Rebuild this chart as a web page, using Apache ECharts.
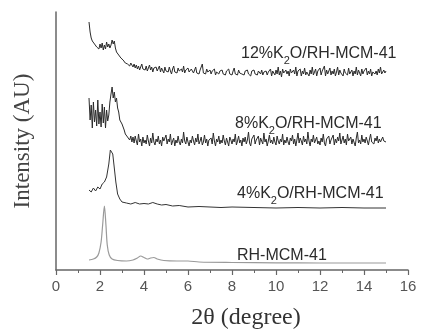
<!DOCTYPE html>
<html>
<head>
<meta charset="utf-8">
<script src="https://cdn.jsdelivr.net/npm/echarts@6/dist/echarts.min.js"></script>
<style>
  html, body { margin: 0; padding: 0; background: #fff; }
  #chart { width: 425px; height: 329px; }
</style>
</head>
<body>
<div id="chart"></div>
<script>
// x ticks (2θ, degree)
const xTicks = [0, 2, 4, 6, 8, 10, 12, 14, 16];

// RH-MCM-41 (smooth, grey) as [2θ, intensity]
const rhMcm = [
  [1.5, 10], [1.7, 11], [1.85, 13], [1.95, 17], [2.05, 28], [2.12, 45], [2.2, 64],
  [2.27, 45], [2.33, 25], [2.42, 15], [2.55, 11], [2.8, 9.5], [3.2, 9], [3.5, 10],
  [3.7, 12], [3.85, 14], [4.0, 12.5], [4.15, 11], [4.3, 12], [4.45, 12.5], [4.6, 11],
  [4.9, 9.5], [5.5, 9], [6.0, 9], [6.5, 8], [8, 7.5], [10, 7.2], [12, 7], [15, 7]
];

// 4%K2O/RH-MCM-41
const k4 = [
  [1.5, 80], [1.6, 78], [1.7, 82], [1.8, 79], [1.9, 83], [2.0, 81], [2.1, 86],
  [2.2, 88], [2.3, 93], [2.4, 106], [2.47, 120], [2.52, 122], [2.58, 116], [2.65, 102],
  [2.72, 88], [2.8, 76], [2.9, 71], [3.0, 68], [3.2, 67], [3.4, 66], [3.6, 67.5],
  [3.8, 66], [4.0, 66.5], [4.2, 66], [4.4, 67.5], [4.6, 66], [4.8, 65], [5.0, 65.5],
  [5.3, 64], [5.6, 64.5], [6.0, 63], [6.5, 63.5], [7, 63], [7.5, 62.5], [8, 63],
  [9, 62.5], [10, 62], [11, 62.5], [12, 62], [13, 62.5], [14, 62], [15, 62]
];

// 8%K2O/RH-MCM-41, sampled every 0.05 from 1.5 to 15
const k8Start = 1.5;
const k8Step = 0.05;
const k8 = [
  172, 150, 165, 142, 168, 148, 160, 144, 170, 146, 158,
  143, 166, 147, 163, 142, 160, 149, 155, 168, 176,
  183, 172, 178, 168, 172, 162, 158, 150, 152, 146,
  143, 140, 136, 138, 133, 135, 130, 134, 128, 133,
  127, 134, 129, 125, 136, 128, 131, 124, 133, 127,
  130, 126, 135, 129, 124, 132, 127, 137, 128, 125,
  131, 128, 134, 126, 130, 124, 133, 129, 127, 135,
  126, 131, 128, 136, 125, 129, 132, 124, 130, 127,
  134, 128, 125, 131, 127, 138, 129, 126, 133, 128,
  124, 130, 127, 134, 129, 125, 132, 128, 136, 126,
  129, 133, 125, 128, 135, 127, 131, 124, 130, 128,
  132, 126, 137, 129, 124, 131, 128, 134, 126, 130,
  127, 135, 129, 125, 132, 128, 124, 133, 130, 126,
  131, 128, 136, 125, 129, 134, 127, 130, 124, 132,
  128, 133, 126, 130, 138, 127, 124, 131, 129, 135,
  126, 130, 128, 134, 125, 132, 129, 126, 137, 128,
  131, 124, 129, 135, 127, 130, 126, 133, 128, 125,
  134, 129, 126, 131, 128, 136, 125, 130, 127, 133,
  128, 125, 132, 129, 135, 126, 131, 124, 130, 137,
  127, 132, 129, 125, 134, 128, 131, 126, 138, 129,
  124, 131, 128, 135, 127, 130, 133, 126, 129, 125,
  132, 128, 136, 127, 124, 131, 129, 134, 126, 130,
  128, 135, 125, 131, 127, 133, 129, 137, 126, 130,
  134, 127, 131, 125, 136, 129, 128, 133, 126, 131,
  129, 124, 132, 138, 127, 130, 126, 135, 128, 131,
  127, 133, 129, 125, 131, 136, 128, 130, 126, 132,
  129, 134, 127, 131, 128, 126, 133, 129, 130, 128
];

// 12%K2O/RH-MCM-41, sampled every 0.05 from 1.5 to 15
const k12Start = 1.5;
const k12Step = 0.05;
const k12 = [
  248, 238, 232, 229, 231, 226, 228, 223, 225, 221, 226,
  222, 227, 220, 225, 221, 228, 223, 226, 222, 225,
  230, 226, 229, 222, 218, 220, 215, 217, 212, 214,
  210, 212, 207, 209, 206, 208, 204, 207, 205, 203,
  206, 202, 205, 201, 204, 200, 203, 206, 201, 203,
  200, 204, 199, 202, 205, 200, 203, 198, 202, 200,
  203, 199, 201, 204, 198, 202, 200, 197, 203, 199,
  201, 198, 203, 199, 196, 201, 204, 198, 200, 197,
  202, 199, 197, 201, 198, 204, 197, 200, 198, 202,
  198, 196, 201, 199, 197, 200, 203, 197, 199, 196,
  200, 198, 206, 197, 199, 196, 201, 198, 197, 200,
  196, 199, 197, 201, 195, 198, 200, 196, 199, 197,
  200, 196, 198, 195, 199, 197, 201, 196, 198, 195,
  199, 202, 196, 198, 195, 200, 197, 199, 196, 198,
  195, 199, 197, 200, 196, 198, 194, 199, 197, 200,
  196, 198, 195, 199, 197, 196, 200, 195, 198, 197,
  199, 195, 198, 196, 201, 194, 199, 197, 195, 200,
  196, 203, 195, 199, 193, 201, 197, 195, 200, 196,
  199, 194, 201, 197, 195, 200, 196, 203, 194, 199,
  197, 201, 194, 199, 196, 202, 195, 198, 200, 194,
  200, 196, 203, 195, 198, 201, 194, 199, 197, 202,
  195, 199, 197, 204, 194, 200, 196, 198, 202, 195,
  199, 196, 201, 194, 198, 203, 195, 200, 197, 199,
  194, 201, 197, 199, 195, 202, 196, 198, 200, 194,
  199, 196, 203, 195, 200, 197, 194, 201, 196, 199,
  197, 202, 195, 199, 196, 201, 194, 198, 200, 196,
  199, 195, 201, 197, 203, 196, 198, 200, 197, 199
];

const seriesLabels = [
  { pre: '12%K', post: 'O/RH-MCM-41', x: 241, y: 52 },
  { pre: '8%K', post: 'O/RH-MCM-41', x: 235, y: 122 },
  { pre: '4%K', post: 'O/RH-MCM-41', x: 237, y: 192 },
  { pre: 'RH-MCM-41', post: null, x: 237, y: 254 }
];

const toPairs = (vals, start, step) =>
  vals.map((v, i) => [+(start + i * step).toFixed(2), v]);

const chart = echarts.init(document.getElementById('chart'));

const labelGraphics = seriesLabels.map(l => ({
  type: 'text',
  left: l.x,
  top: l.y - 6,
  style: {
    text: l.post ? `{a|${l.pre}}{s|2}{a|${l.post}}` : `{a|${l.pre}}`,
    rich: {
      a: { fontFamily: 'Liberation Sans', fontSize: 16, fill: '#2b2b2b', lineHeight: 19, verticalAlign: 'bottom' },
      s: { fontFamily: 'Liberation Sans', fontSize: 11, fill: '#2b2b2b', lineHeight: 19, verticalAlign: 'bottom', padding: [0, 0, -4, 0] }
    }
  }
}));

const lineSeries = (data, color, width) => ({
  type: 'line',
  data,
  showSymbol: false,
  symbol: 'none',
  lineStyle: { color, width },
  animation: false
});

chart.setOption({
  animation: false,
  grid: { left: 56, right: 17, top: 12, bottom: 59, outerBoundsMode: 'none' },
  xAxis: {
    type: 'value',
    min: 0,
    max: 16,
    interval: 2,
    name: '2\u03b8 (degree)',
    nameLocation: 'middle',
    nameGap: 36,
    nameTextStyle: { fontFamily: 'Liberation Serif', fontSize: 24, color: '#333', padding: [0, 0, 0, 28] },
    axisLine: { lineStyle: { color: '#666', width: 1.5 } },
    axisTick: { show: true, length: 5, lineStyle: { color: '#666', width: 1.2 } },
    minorTick: { show: true, splitNumber: 2, length: 3, lineStyle: { color: '#666' } },
    axisLabel: {
      fontFamily: 'Liberation Sans', fontSize: 15, color: '#555', margin: 9,
      formatter: v => (xTicks.includes(v) ? String(v) : '')
    },
    splitLine: { show: false }
  },
  yAxis: {
    type: 'value',
    min: 0,
    max: 258,
    name: 'Intensity (AU)',
    nameLocation: 'middle',
    nameGap: 22,
    nameTextStyle: { fontFamily: 'Liberation Serif', fontSize: 23, color: '#444' },
    axisLine: { show: true, lineStyle: { color: '#666', width: 1.5 } },
    axisTick: { show: false },
    axisLabel: { show: false },
    splitLine: { show: false }
  },
  graphic: labelGraphics,
  series: [
    Object.assign(lineSeries(rhMcm, '#9a9a9a', 1.2), { smooth: 0.3 }),
    lineSeries(k4, '#333', 1),
    lineSeries(toPairs(k8, k8Start, k8Step), '#2a2a2a', 1),
    lineSeries(toPairs(k12, k12Start, k12Step), '#2a2a2a', 1)
  ]
});
</script>
</body>
</html>
